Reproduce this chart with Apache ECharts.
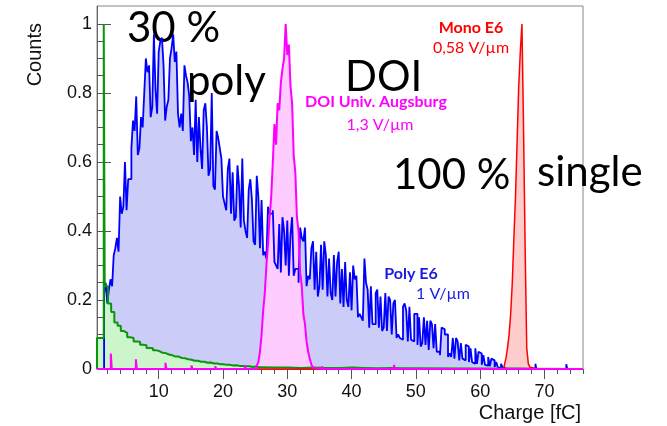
<!DOCTYPE html>
<html>
<head>
<meta charset="utf-8">
<script src="https://cdn.jsdelivr.net/npm/echarts@6/dist/echarts.min.js"></script>
<style>
  html, body { margin: 0; padding: 0; background: #fff; }
  #chart { width: 667px; height: 426px; }
</style>
</head>
<body>
<div id="chart"></div>
<script>
// axis ticks
const xTicks = [10, 20, 30, 40, 50, 60, 70];
const xMinorTicks = [2, 4, 6, 8, 12, 14, 16, 18, 22, 24, 26, 28, 32, 34, 36, 38, 42, 44, 46, 48, 52, 54, 56, 58, 62, 64, 66, 68, 72, 74, 76];
const yTicks = [0, 0.2, 0.4, 0.6, 0.8, 1];
const yMinorTicks = [0.05, 0.1, 0.15, 0.25, 0.3, 0.35, 0.45, 0.5, 0.55, 0.65, 0.7, 0.75, 0.85, 0.9, 0.95];

// Poly E6 (blue), bins of 0.25 fC starting at 1.5 fC
const blueStart = 1.5;
const blueCounts = [
  0.22, 0.25, 0.19, 0.23,  0.26, 0.24, 0.33, 0.35,  0.38, 0.34, 0.50, 0.45,
  0.47, 0.60, 0.46, 0.55,  0.55, 0.64, 0.72, 0.69,  0.79, 0.62, 0.64, 0.73,
  0.70, 0.80, 0.90, 0.86,  0.88, 0.73, 0.76, 0.97,  0.81, 0.74, 0.92, 0.95,
  0.96, 0.88, 0.72, 0.76,  0.78, 0.90, 0.93, 0.97,  0.89, 0.92, 0.74, 0.70,
  0.74, 0.69, 0.88, 0.85,  0.83, 0.79, 0.66, 0.70,  0.62, 0.78, 0.60, 0.73,
  0.64, 0.58, 0.75, 0.77,  0.70, 0.56, 0.58, 0.80,  0.53, 0.52, 0.69, 0.67,
  0.64, 0.61, 0.50, 0.48,  0.46, 0.58, 0.61, 0.45,  0.57, 0.43, 0.44, 0.59,
  0.53, 0.41, 0.61, 0.43,  0.40, 0.38, 0.52, 0.55,  0.49, 0.37, 0.36, 0.56,
  0.50, 0.35, 0.49, 0.33,  0.34, 0.32, 0.47, 0.45,  0.45, 0.46, 0.31, 0.30,
  0.29, 0.42, 0.28, 0.44,  0.40, 0.30, 0.43, 0.27,  0.39, 0.44, 0.27, 0.29,
  0.29, 0.25, 0.41, 0.38,  0.37, 0.41, 0.24, 0.27,  0.26, 0.35, 0.37, 0.23,
  0.34, 0.21, 0.24, 0.36,  0.23, 0.37, 0.33, 0.21,  0.32, 0.22, 0.20, 0.33,
  0.21, 0.31, 0.34, 0.19,  0.29, 0.18, 0.31, 0.20,  0.18, 0.28, 0.17, 0.30,
  0.26, 0.27, 0.15, 0.16,  0.15, 0.14, 0.32, 0.25,  0.23, 0.12, 0.24, 0.13,
  0.13, 0.22, 0.23, 0.12,  0.21, 0.11, 0.12, 0.22,  0.11, 0.21, 0.20, 0.10,
  0.19, 0.20, 0.09, 0.10,  0.09, 0.085, 0.18, 0.19,  0.17, 0.08, 0.18, 0.085,
  0.08, 0.16, 0.16, 0.07,  0.15, 0.065, 0.075, 0.15,  0.07, 0.14, 0.055, 0.14,
  0.13, 0.06, 0.13, 0.05,  0.05, 0.04, 0.12, 0.115,  0.10, 0.10, 0.035, 0.045,
  0.035, 0.09, 0.03, 0.09,  0.08, 0.025, 0.075, 0.03,  0.025, 0.07, 0.065, 0.02,
  0.06, 0.02, 0.015, 0.06,  0.015, 0.05, 0.045, 0.012,  0.04, 0.012, 0.01, 0.035,
  0.008, 0.03, 0.025, 0.006,  0.02, 0.005, 0.004, 0.015,  0.005, 0.002
];
const blueSpikeX = [68.6, 73.4];
const blueSpikeY = [0.015, 0.014];

// Poly II-VI (green)
const greenFirstX = [0.4, 1.45];
const greenFirstY = [0.09, 1.0];
const greenStart = 1.6;
const greenCounts = [
  0.24, 0.19, 0.165, 0.135, 0.125, 0.11, 0.105, 0.092, 0.09, 0.08,
  0.079, 0.07, 0.069, 0.061, 0.06, 0.054, 0.052, 0.047, 0.046, 0.042,
  0.04, 0.036, 0.036, 0.032, 0.031, 0.028, 0.027, 0.024, 0.024, 0.021,
  0.021, 0.018, 0.019, 0.016, 0.016, 0.014, 0.014, 0.012, 0.012, 0.01,
  0.011, 0.009, 0.009, 0.008, 0.008, 0.006, 0.007, 0.005, 0.005
];
const greenTailStart = 26.1;
const greenTail = [0.004, 0.004, 0.003, 0.004, 0.003, 0.003, 0.004, 0.003, 0.002, 0.003, 0.002, 0.002];

// DOI Univ. Augsburg (magenta), bins of 0.25 fC starting at 25.25 fC
const magentaStart = 25.25;
const magentaCounts = [
  0.01, 0.02, 0.05, 0.10, 0.17, 0.22, 0.30, 0.36, 0.44, 0.50,
  0.60, 0.71, 0.65, 0.77, 0.75, 0.83, 0.87, 0.90, 1.00, 0.91,
  0.94, 0.82, 0.77, 0.62, 0.57, 0.44, 0.40, 0.28, 0.24, 0.16,
  0.13, 0.08, 0.05, 0.03, 0.012, 0.004
];
const magentaSpikeX = [2.55, 6.45, 11.05, 15.1, 18.8, 23.4, 35.4, 46.6];
const magentaSpikeY = [0.045, 0.028, 0.018, 0.01, 0.008, 0.01, 0.008, 0.012];

// Mono E6 (red), bins of 0.25 fC starting at 63.75 fC
const redStart = 63.75;
const redCounts = [
  0.01, 0.03, 0.06, 0.10, 0.16, 0.25, 0.38, 0.50, 0.66, 0.82,
  0.92, 1.00, 0.70, 0.35, 0.06, 0.015, 0.005
];
const redSpikeX = [69.0, 70.1];
const redSpikeY = [0.004, 0.004];

const X_MIN = 0.4, X_MAX = 76;

function uniformBins(start, width, counts) {
  return counts.map((c, i) => [start + i * width, start + (i + 1) * width, c]);
}
function spikeBins(xs, ys) {
  return xs.map((x, i) => [x, x + 0.15, ys[i]]);
}
// outline of a step histogram, going down to zero only in gaps
function outline(bins) {
  bins.sort((a, b) => a[0] - b[0]);
  const pts = [[X_MIN, 0]];
  let lastR = X_MIN;
  bins.forEach(([l, r, c]) => {
    if (l - lastR > 1e-6) { pts.push([lastR, 0], [l, 0]); }
    pts.push([l, c], [r, c]);
    lastR = r;
  });
  pts.push([lastR, 0], [X_MAX, 0]);
  return pts;
}

const blueData = outline(uniformBins(blueStart, 0.25, blueCounts).concat(spikeBins(blueSpikeX, blueSpikeY)));
const greenData = outline(
  [[greenFirstX[0], greenFirstX[1], greenFirstY[0]], [greenFirstX[1], greenStart, greenFirstY[1]]]
    .concat(uniformBins(greenStart, 0.5, greenCounts))
    .concat(uniformBins(greenTailStart, 2, greenTail))
);
const magentaData = outline(uniformBins(magentaStart, 0.25, magentaCounts).concat(spikeBins(magentaSpikeX, magentaSpikeY)));
const redData = outline(uniformBins(redStart, 0.25, redCounts).concat(spikeBins(redSpikeX, redSpikeY)));

function hist(name, data, line, fill, width) {
  return {
    name: name,
    type: "line",
    data: data,
    symbol: "none",
    clip: false,
    lineStyle: { color: line, width: width },
    areaStyle: { color: fill, opacity: 1 },
    silent: true,
  };
}

const tickFont = { fontFamily: "Liberation Sans", fontSize: 18, color: "#111" };
const titleFont = '20px "Liberation Sans"';
const bigFont = '42px "Lato"';
const smallFont = '16px "Lato"';
const smallBold = 'bold 16px "Lato"';

function label(text, x, y, font, color, align) {
  return {
    type: "text",
    x: x,
    y: y,
    style: { text: text, font: font, fill: color, align: align || "center", verticalAlign: "middle" },
  };
}

const chart = echarts.init(document.getElementById("chart"));
chart.setOption({
  animation: false,
  backgroundColor: "#fff",
  grid: {
    left: 97, right: 84, top: 6, bottom: 57,
    show: true, borderColor: "#888", borderWidth: 1,
    outerBoundsMode: "none",
  },
  xAxis: [
    {
      type: "value", min: X_MIN, max: X_MAX, position: "bottom",
      axisLine: { show: true, onZero: false, lineStyle: { color: "#666", width: 1 } },
      axisTick: { show: true, inside: false, length: 10, customValues: xTicks, lineStyle: { color: "#555" } },
      axisLabel: Object.assign({ customValues: xTicks, margin: 14 }, tickFont),
      splitLine: { show: false },
    },
    {
      type: "value", min: X_MIN, max: X_MAX, position: "bottom",
      axisLine: { show: false, onZero: false },
      axisTick: { show: true, inside: false, length: 5, customValues: xMinorTicks, lineStyle: { color: "#555" } },
      axisLabel: { show: false },
      splitLine: { show: false },
    },
  ],
  yAxis: [
    {
      type: "value", min: 0, max: 1.052, position: "left",
      axisLine: { show: true, onZero: false, lineStyle: { color: "#666", width: 1 } },
      axisTick: { show: true, inside: true, length: 14, customValues: yTicks, lineStyle: { color: "#555" } },
      axisLabel: Object.assign({ customValues: yTicks, margin: 5 }, tickFont),
      splitLine: { show: false },
    },
    {
      type: "value", min: 0, max: 1.052, position: "left",
      axisLine: { show: false, onZero: false },
      axisTick: { show: true, inside: true, length: 7, customValues: yMinorTicks, lineStyle: { color: "#555" } },
      axisLabel: { show: false },
      splitLine: { show: false },
    },
  ],
  series: [
    hist("Poly E6", blueData, "#0000ff", "#ccccf8", 1.8),
    hist("Poly II-VI", greenData, "#0a960a", "#ccf5cc", 2),
    hist("Mono E6", redData, "#ff0000", "#ffcccc", 1.5),
    hist("DOI Univ. Augsburg", magentaData, "#ff00ff", "#ffccff", 2),
  ],
  graphic: [
    {
      type: "text", x: 35, y: 23, rotation: Math.PI / 2,
      style: { text: "Counts", font: titleFont, fill: "#111", align: "right", verticalAlign: "middle" },
    },
    label("Charge [fC]", 581, 413, titleFont, "#111", "right"),

    label("30 %", 127, 28, bigFont, "#000", "left"),
    label("poly", 187, 81, bigFont, "#000", "left"),
    label("DOI", 345, 77, bigFont, "#000", "left"),
    label("100 %", 393, 175, bigFont, "#000", "left"),
    label("single", 537, 172, bigFont, "#000", "left"),

    label("Mono E6", 471, 28, smallBold, "#ff0000"),
    label("0,58 V/µm", 471, 48, smallFont, "#ff0000"),
    label("DOI Univ. Augsburg", 376, 102, smallBold, "#ff00ff"),
    label("1,3 V/µm", 380, 125, smallFont, "#ff00ff"),
    label("Poly E6", 411, 274, smallBold, "#1a1ae6"),
    label("1 V/µm", 443, 294, smallFont, "#1a1ae6"),
    label("Poly II-VI", 159, 324, smallBold, "#1a9a1a"),
    label("0,67 V/µm", 198, 339, smallFont, "#1a9a1a"),
  ],
});
</script>
</body>
</html>
